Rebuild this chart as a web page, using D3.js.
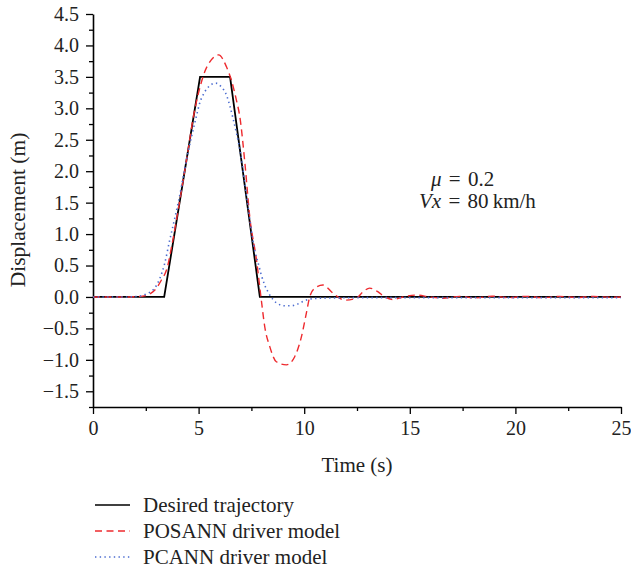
<!DOCTYPE html>
<html>
<head>
<meta charset="utf-8">
<script src="https://cdn.jsdelivr.net/npm/d3@7"></script>
<style>
  body { margin: 0; background: #fff; }
  svg { display: block; font-family: "Liberation Serif", "Times New Roman", serif; }
</style>
</head>
<body>
<svg></svg>
<script>
var width = 631;
var height = 571;

// desired trajectory (s, m)
var desiredT = [0, 3.37, 5.07, 6.49, 7.9, 25];
var desiredD = [0, 0, 3.5, 3.5, 0, 0];

// POSANN driver model
var posannT = [0, 1.5, 2.0, 2.3, 2.5, 2.7, 2.93, 3.24, 3.5, 3.75, 4.0, 4.5, 4.74, 5.0, 5.29, 5.6, 5.95, 6.32, 6.55, 6.79, 6.95, 7.2, 7.42, 7.74, 7.97, 8.13, 8.37, 8.68, 9.16, 9.55, 9.87, 10.1, 10.26, 10.5, 10.89, 11.36, 11.92, 12.47, 12.78, 13.1, 13.5, 13.81, 14.2, 14.68, 15.3, 15.94, 16.57, 17.36, 18.1, 18.9, 19.7, 20.5, 21.3, 22.1, 22.9, 23.7, 24.5, 25];
var posannD = [0, 0, 0.005, 0.01, 0.02, 0.05, 0.11, 0.27, 0.45, 0.85, 1.32, 2.33, 2.84, 3.25, 3.58, 3.77, 3.85, 3.66, 3.45, 3.13, 2.87, 2.1, 1.28, 0.59, -0.05, -0.47, -0.79, -1.03, -1.08, -0.95, -0.63, -0.26, 0, 0.14, 0.19, 0.06, -0.05, -0.02, 0.08, 0.14, 0.08, 0, -0.04, 0, 0.03, 0, -0.02, 0.01, -0.015, 0.012, -0.01, 0.01, -0.012, 0.008, -0.01, 0.008, -0.005, 0];

// PCANN driver model
var pcannT = [0, 1.5, 2.0, 2.3, 2.6, 2.84, 3.16, 3.4, 3.63, 3.87, 4.06, 4.5, 4.7, 4.9, 5.05, 5.29, 5.53, 5.81, 6.08, 6.32, 6.47, 6.63, 7.0, 7.3, 7.65, 7.82, 7.97, 8.13, 8.32, 8.52, 8.76, 9.08, 9.39, 9.71, 10.02, 10.34, 10.73, 11.5, 13, 15, 18, 21, 25];
var pcannD = [0, 0, 0.005, 0.02, 0.06, 0.11, 0.29, 0.54, 0.9, 1.25, 1.54, 2.3, 2.6, 2.88, 3.08, 3.26, 3.36, 3.4, 3.34, 3.21, 3.05, 2.84, 2.25, 1.54, 0.75, 0.54, 0.35, 0.19, 0.06, -0.04, -0.11, -0.14, -0.14, -0.11, -0.06, -0.03, -0.02, -0.015, -0.01, -0.01, -0.01, -0.01, -0.01];

var xTicks = [0, 5, 10, 15, 20, 25];
var yTicks = [-1.5, -1.0, -0.5, 0, 0.5, 1.0, 1.5, 2.0, 2.5, 3.0, 3.5, 4.0, 4.5];

var legendNames = ["Desired trajectory", "POSANN driver model", "PCANN driver model"];

var svg = d3.select("svg").attr("width", width).attr("height", height);

var x = d3.scaleLinear().domain([0, 25]).range([93, 621]);
var y = d3.scaleLinear().domain([-1.75, 4.5]).range([407, 14]);

var styles = [
    { color: "#000000", dash: null, w: 1.8, curve: d3.curveLinear },
    { color: "#ee2a2e", dash: "7,4.5", w: 1.4, curve: d3.curveMonotoneX },
    { color: "#4a6bd0", dash: "1.4,3.3", w: 1.6, curve: d3.curveMonotoneX }
];

// minor ticks
var xMinor = d3.range(2.5, 25, 5);
var yMinor = d3.range(-1.75, 4.5, 0.5);

svg.append("g")
    .attr("transform", "translate(0,407)")
    .call(d3.axisBottom(x).tickValues(xMinor).tickSize(4).tickFormat("").tickSizeOuter(0))
    .call(g => g.select(".domain").remove());
svg.append("g")
    .attr("transform", "translate(93,0)")
    .call(d3.axisLeft(y).tickValues(yMinor).tickSize(4).tickFormat("").tickSizeOuter(0))
    .call(g => g.select(".domain").remove());

var xAxis = svg.append("g")
    .attr("transform", "translate(0,407)")
    .call(d3.axisBottom(x).tickValues(xTicks).tickSize(7).tickPadding(7).tickSizeOuter(0));
var yAxis = svg.append("g")
    .attr("transform", "translate(93,0)")
    .call(d3.axisLeft(y).tickValues(yTicks).tickSize(7).tickPadding(7).tickFormat(d3.format(".1f")).tickSizeOuter(0));

[xAxis, yAxis].forEach(function(a) {
    a.selectAll("text").attr("font-family", "Liberation Serif, serif").attr("font-size", 20).attr("fill", "#222");
    a.select(".domain").attr("stroke-width", 1.6);
});
svg.selectAll(".tick line").attr("stroke-width", 1.3);

var series = [
    desiredT.map((t, i) => [t, desiredD[i]]),
    posannT.map((t, i) => [t, posannD[i]]),
    pcannT.map((t, i) => [t, pcannD[i]])
];

[0, 1, 2].forEach(function(k) {
    var line = d3.line().x(d => x(d[0])).y(d => y(d[1])).curve(styles[k].curve);
    svg.append("path")
        .datum(series[k])
        .attr("fill", "none")
        .attr("stroke", styles[k].color)
        .attr("stroke-width", styles[k].w)
        .attr("stroke-dasharray", styles[k].dash)
        .attr("d", line);
});

// axis titles
svg.append("text")
    .attr("x", 357).attr("y", 472)
    .attr("text-anchor", "middle")
    .attr("font-size", 21).attr("fill", "#222")
    .text("Time (s)");
svg.append("text")
    .attr("transform", "translate(25,210) rotate(-90)")
    .attr("text-anchor", "middle")
    .attr("font-size", 21.5).attr("fill", "#222")
    .text("Displacement (m)");

// annotation
var ann = svg.append("text").attr("font-size", 21).attr("fill", "#222");
ann.append("tspan").attr("x", 431).attr("y", 186).attr("font-style", "italic").text("\u03bc");
ann.append("tspan").text(" = 0.2").attr("word-spacing", 2);
var ann2 = svg.append("text").attr("font-size", 21).attr("fill", "#222");
ann2.append("tspan").attr("x", 419).attr("y", 208).attr("font-style", "italic").text("Vx");
ann2.append("tspan").text(" = 80\u2009km/h").attr("word-spacing", 2);

// legend
var legend = svg.append("g");
legendNames.forEach(function(name, i) {
    var ly = 505 + i * 26;
    legend.append("line")
        .attr("x1", 95).attr("x2", 130)
        .attr("y1", ly).attr("y2", ly)
        .attr("stroke", styles[i].color)
        .attr("stroke-width", i === 0 ? 1.4 : styles[i].w)
        .attr("stroke-dasharray", styles[i].dash);
    legend.append("text")
        .attr("x", 143).attr("y", ly + 7)
        .attr("font-size", 21).attr("fill", "#222")
        .text(name);
});
</script>
</body>
</html>
